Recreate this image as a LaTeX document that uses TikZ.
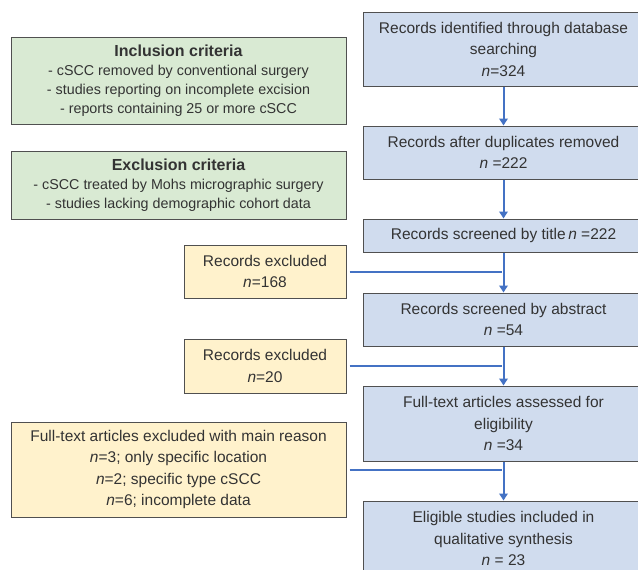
\documentclass[tikz,border=0pt]{standalone}
\usepackage{xcolor}
\usepackage{fontspec}
\setmainfont{Liberation Sans}
\usepackage{tikz}
\usetikzlibrary{arrows.meta}

\definecolor{boxblue}{HTML}{D0DCEE}
\definecolor{boxgreen}{HTML}{D9EAD3}
\definecolor{boxyellow}{HTML}{FFF2CC}
\definecolor{linkblue}{HTML}{4472C4}
\definecolor{txtgray}{HTML}{333333}
\definecolor{edgegray}{HTML}{505050}

\begin{document}
\begin{tikzpicture}[x=1pt,y=-1pt,
  box/.style={draw=edgegray,line width=1pt,inner sep=0pt,align=center,text=txtgray,font=\fontsize{15.5}{21.5}\selectfont},
  flow/.style={box,fill=boxblue,minimum width=281pt},
  crit/.style={box,fill=boxgreen,minimum width=335pt,font=\fontsize{14.3}{19}\selectfont},
  excl/.style={box,fill=boxyellow},
  link/.style={linkblue,line width=2pt},
  arr/.style={link,-{Triangle[length=7pt,width=8.5pt]}}]
  \clip (0,0) rectangle (638,570);
  \node[flow,minimum height=74pt] (ident) at (503.5,49) {Records identified through database\\searching\\\textit{n}=324};
  \node[flow,minimum height=53pt] (dupl) at (503.5,152.5) {Records after duplicates removed\\\textit{n} =222};
  \node[flow,minimum height=33pt] (title) at (503.5,235.5) {Records screened by title\,\textit{n} =222};
  \node[flow,minimum height=53pt] (abstr) at (503.5,319.5) {Records screened by abstract\\\textit{n} =54};
  \node[flow,minimum height=75pt] (fulltext) at (503.5,423.5) {Full-text articles assessed for\\eligibility\\\textit{n} =34};
  \node[flow,minimum height=75pt] (eligible) at (503.5,538.5) {Eligible studies included in\\qualitative synthesis\\\textit{n} = 23};

  \node[crit,minimum height=87pt] (inclusion) at (178.5,80.5) {{\fontsize{16}{20}\selectfont\bfseries Inclusion criteria}\\- cSCC removed by conventional surgery\\- studies reporting on incomplete excision\\- reports containing 25 or more cSCC};
  \node[crit,minimum height=68pt] (exclusion) at (178.5,185) {{\fontsize{16}{20}\selectfont\bfseries Exclusion criteria}\\- cSCC treated by Mohs micrographic surgery\\- studies lacking demographic cohort data};

  \node[excl,minimum width=162pt,minimum height=53pt] (excltitle) at (265,271.5) {Records excluded\\\textit{n}=168};
  \node[excl,minimum width=162pt,minimum height=54pt] (exclabstr) at (265,366) {Records excluded\\\textit{n}=20};
  \node[excl,minimum width=335pt,minimum height=95pt] (exclfull) at (178.5,469.5) {Full-text articles excluded with main reason\\\textit{n}=3; only specific location\\\textit{n}=2; specific type cSCC\\\textit{n}=6; incomplete data};

  \foreach \a/\b in {ident/dupl,dupl/title,title/abstr,abstr/fulltext,fulltext/eligible}
    \draw[arr] (\a) -- (\b);
  \foreach \e/\s in {excltitle/title,exclabstr/abstr,exclfull/fulltext}
    \draw[link,shorten <=3pt,shorten >=2pt] (\e.east) -- (\e.east -| \s.south);
\end{tikzpicture}
\end{document}
